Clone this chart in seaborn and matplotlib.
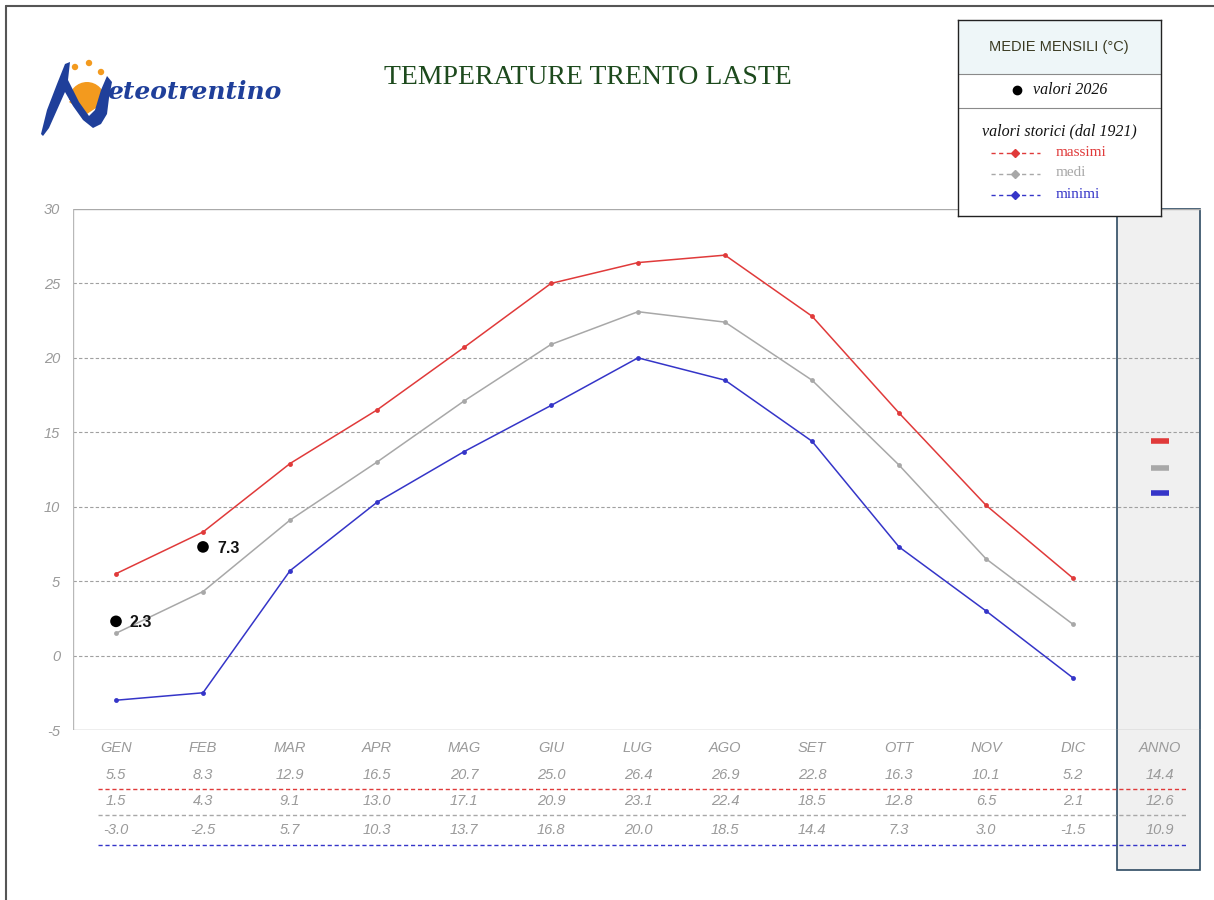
import matplotlib
matplotlib.use("Agg")
import matplotlib.pyplot as plt
import matplotlib.transforms as mtransforms
from matplotlib.patches import Rectangle, Circle, Wedge, Polygon
from matplotlib.lines import Line2D
import seaborn as sns
import pandas as pd
import numpy as np

# ---------------- data ----------------
months = ["GEN", "FEB", "MAR", "APR", "MAG", "GIU", "LUG", "AGO", "SET", "OTT", "NOV", "DIC"]
max_vals = [5.5, 8.3, 12.9, 16.5, 20.7, 25.0, 26.4, 26.9, 22.8, 16.3, 10.1, 5.2]
med_vals = [1.5, 4.3, 9.1, 13.0, 17.1, 20.9, 23.1, 22.4, 18.5, 12.8, 6.5, 2.1]
min_vals = [-3.0, -2.5, 5.7, 10.3, 13.7, 16.8, 20.0, 18.5, 14.4, 7.3, 3.0, -1.5]
anno_label = "ANNO"
anno_max, anno_med, anno_min = 14.4, 12.6, 10.9
vals_2026 = [2.3, 7.3]
yticks = [-5, 0, 5, 10, 15, 20, 25, 30]

RED = "#e03a3a"
GREY = "#a8a8a8"
BLUE = "#3535c8"
TXT = "#9a9a9a"

sns.set_style("white")
plt.rcParams["font.family"] = ["Liberation Sans", "DejaVu Sans"]

W, H = 1214, 900
fig = plt.figure(figsize=(W / 100, H / 100), dpi=100)

def fx(px):
    return px / W

def fy(py):
    return 1 - py / H

# axes: x from 72.5px to 1203.5px, y from 209px (30) to 730px (-5)
ax = fig.add_axes([fx(72.5), fy(730), (1203.5 - 72.5) / W, (730 - 209) / H])
ax.set_facecolor("none")
ax.set_xlim(-0.5, 12.5)
ax.set_ylim(-5, 30)

blend = mtransforms.blended_transform_factory(ax.transData, ax.transAxes)

# ANNO panel
panel = Rectangle((11.5, -0.2687), 0.965, 1.2687, transform=blend, clip_on=False,
                  facecolor="#f0f0f0", edgecolor="#2e4a62", linewidth=1.2, zorder=0.3)
ax.add_patch(panel)

# grid lines
gx = (1200 - 72.5) / 1131
for yv in yticks:
    if yv in (-5, 30):
        ax.axhline(yv, xmin=0, xmax=gx, color="#aaaaaa", lw=1.0, zorder=1)
    else:
        ax.axhline(yv, xmin=0, xmax=gx, color="#a0a0a0", lw=0.8, ls=(0, (3, 2)), zorder=1)

for s in ax.spines.values():
    s.set_visible(False)
ax.axvline(-0.5, color="#b8b8b8", lw=1.0, zorder=1)

ax.set_yticks(yticks)
ax.set_yticklabels([str(v) for v in yticks], fontsize=10.5, style="italic", color=TXT)
ax.tick_params(axis="y", length=4, width=0.8, color="#b8b8b8", pad=5)
ax.set_xticks([])

# lines
df = pd.DataFrame({
    "idx": list(range(12)) * 3,
    "val": max_vals + med_vals + min_vals,
    "serie": ["massimi"] * 12 + ["medi"] * 12 + ["minimi"] * 12,
})
sns.lineplot(data=df, x="idx", y="val", hue="serie",
             palette={"massimi": RED, "medi": GREY, "minimi": BLUE},
             marker="o", markersize=3.5, markeredgewidth=0, linewidth=1.1,
             legend=False, ax=ax, zorder=3)

# 2026 points
d26 = pd.DataFrame({"idx": list(range(len(vals_2026))), "val": vals_2026})
sns.scatterplot(data=d26, x="idx", y="val", color="black", s=70, edgecolor="none",
                ax=ax, zorder=5, legend=False)
for i, v in enumerate(vals_2026):
    ax.annotate(f"{v:.1f}", (i, v), xytext=(10, -1), textcoords="offset points",
                fontsize=11.5, fontweight="bold", color="#111111", va="center", ha="left",
                zorder=6)
ax.set_xlim(-0.5, 12.5)
ax.set_ylim(-5, 30)
ax.set_xlabel("")
ax.set_ylabel("")

# annual bars in panel
for v, c in [(anno_max, RED), (anno_med, GREY), (anno_min, BLUE)]:
    ax.plot([11.9, 12.1], [v, v], color=c, lw=4, solid_capstyle="butt", zorder=4)

# month labels and table
labels = months + [anno_label]
rows = [max_vals + [anno_max], med_vals + [anno_med], min_vals + [anno_min]]
row_y = [-0.0864, -0.136, -0.1919]
line_y = [-0.1132, -0.1631, -0.2207]
line_c = [RED, GREY, BLUE]
for i, lab in enumerate(labels):
    ax.text(i, -0.0345, lab, transform=blend, ha="center", va="center",
            fontsize=10.5, style="italic", color=TXT)
    for r, ry in zip(rows, row_y):
        ax.text(i, ry, f"{r[i]:.1f}", transform=blend, ha="center", va="center",
                fontsize=10.5, style="italic", color=TXT)
for ly, lc in zip(line_y, line_c):
    ax.plot([-0.207, 12.32], [ly, ly], transform=blend, clip_on=False,
            color=lc, lw=1.0, ls=(0, (3, 2)), zorder=2)

# title
fig.text(fx(588), fy(78), "TEMPERATURE TRENTO LASTE", ha="center", va="center",
         fontsize=20, color="#1d4a1d", family=["Liberation Serif", "DejaVu Serif"])

# logo
lax = fig.add_axes([fx(35), fy(140), 260 / W, 90 / H])
lax.set_xlim(0, 260)
lax.set_ylim(90, 0)
lax.axis("off")
lax.add_patch(Wedge((52, 50), 18, 180, 360, facecolor="#f39a1e", edgecolor="none"))
lax.add_patch(Polygon([[34, 52], [36, 50], [52, 48], [68, 50], [70, 52], [52, 64]],
                      facecolor="#f39a1e", edgecolor="none"))
for (cx, cy) in [(40, 17), (54, 13), (66, 22)]:
    lax.add_patch(Circle((cx, cy), 3.2, facecolor="#f39a1e", edgecolor="none"))
lax.add_patch(Polygon([[6, 84], [12, 60], [22, 34], [30, 14], [35, 12], [33, 30],
                       [44, 52], [54, 66], [60, 60], [66, 40], [72, 26], [77, 32],
                       [74, 48], [72, 64], [66, 74], [58, 78], [48, 70], [38, 56],
                       [30, 42], [22, 60], [14, 78], [8, 86]],
                      facecolor="#1f3f9a", edgecolor="none"))
lax.text(72, 42, "eteotrentino", fontsize=18, style="italic", fontweight="bold",
         color="#1f3f9a", va="center", ha="left", family=["DejaVu Serif"])

# legend box
lb_x0, lb_y0, lb_x1, lb_y1 = 958, 20, 1161, 216
lg = fig.add_axes([fx(lb_x0), fy(lb_y1), (lb_x1 - lb_x0) / W, (lb_y1 - lb_y0) / H])
lg.set_xlim(lb_x0, lb_x1)
lg.set_ylim(lb_y1, lb_y0)
lg.set_xticks([])
lg.set_yticks([])
lg.set_facecolor("white")
for s in lg.spines.values():
    s.set_color("#222222")
    s.set_linewidth(1.0)
lg.add_patch(Rectangle((lb_x0, lb_y0), lb_x1 - lb_x0, 54, facecolor="#eef6f8", edgecolor="none"))
lg.axhline(74, color="#8a8a8a", lw=0.8)
lg.axhline(108, color="#8a8a8a", lw=0.8)
lg.text(1059, 47, "MEDIE MENSILI (°C)", ha="center", va="center", fontsize=10.5, color="#3b3b22")
lg.plot([1017], [90], "o", color="black", ms=6)
lg.text(1033, 90, "valori 2026", ha="left", va="center", fontsize=11.5, style="italic",
        color="#111111", family=["Liberation Serif", "DejaVu Serif"])
lg.text(1059, 131, "valori storici (dal 1921)", ha="center", va="center", fontsize=11.5,
        style="italic", color="#111111", family=["Liberation Serif", "DejaVu Serif"])
for yy, c, name in [(153, RED, "massimi"), (174, GREY, "medi"), (195, BLUE, "minimi")]:
    lg.plot([991, 1040], [yy, yy], color=c, lw=1.0, ls=(0, (3, 2.5)))
    lg.plot([1015], [yy], marker="D", color=c, ms=4)
    lg.text(1056, yy - 1, name, ha="left", va="center", fontsize=11, color=c,
            family=["Liberation Serif", "DejaVu Serif"])

# outer frame (left & top)
fig.add_artist(Line2D([fx(5.5), fx(5.5)], [fy(6), 0], color="#555555", lw=1.5))
fig.add_artist(Line2D([fx(5.5), 1], [fy(6), fy(6)], color="#555555", lw=1.5))

fig.savefig("out.png", dpi=100)
